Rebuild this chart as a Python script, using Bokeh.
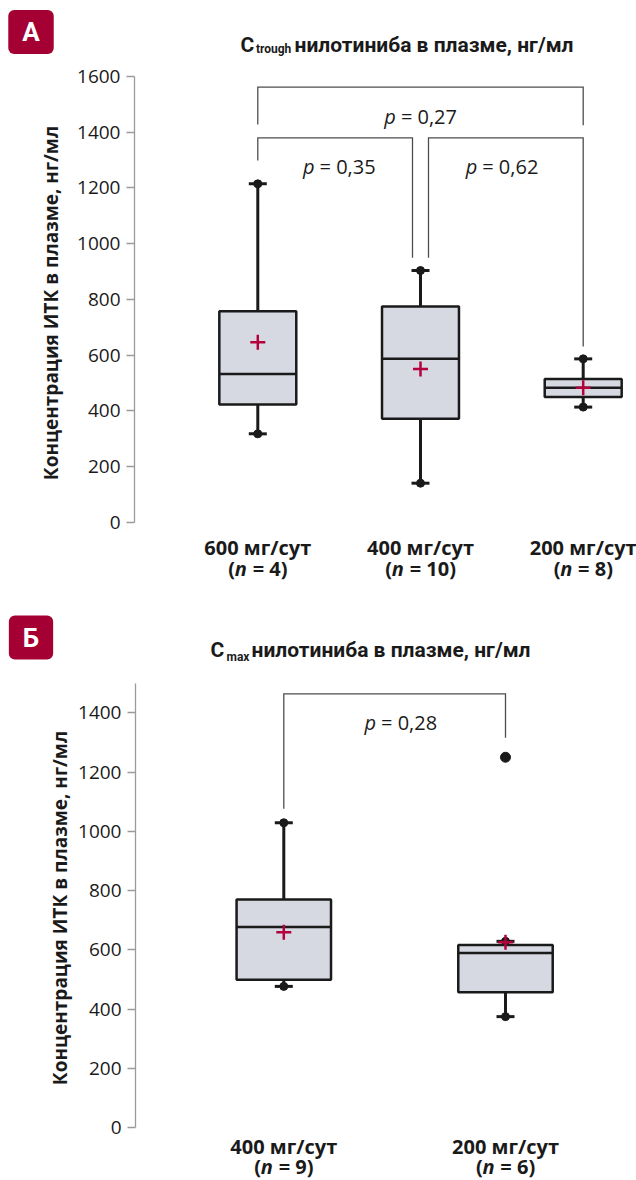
import math
from bokeh.plotting import figure
from bokeh.models import Range1d, FixedTicker, Label
from bokeh.layouts import column, row
from bokeh.embed import file_html
from bokeh.resources import INLINE
from bokeh.core.properties import value

# ---------------- Panel A data (C trough) ----------------
a_doses = ["600 мг/сут", "400 мг/сут", "200 мг/сут"]
a_n = [4, 10, 8]
a_whisk_lo = [318, 141, 414]
a_q1 = [423, 372, 450]
a_median = [533, 587, 483]
a_q3 = [758, 775, 515]
a_whisk_hi = [1215, 904, 587]
a_mean = [647, 551, 483]
a_ticks = [0, 200, 400, 600, 800, 1000, 1200, 1400, 1600]
# brackets: group indices, bar level, leg ends, p value
a_brk_i = [0, 0, 1]
a_brk_j = [2, 1, 2]
a_brk_level = [1562, 1380, 1380]
a_brk_end_i = [1428, 1299, 950]
a_brk_end_j = [1425, 950, 631]
a_brk_p = ["0,27", "0,35", "0,62"]
a_brk_shift_i = [0, 0, 1]
a_brk_shift_j = [0, -1, 0]

# ---------------- Panel B data (C max) ----------------
b_doses = ["400 мг/сут", "200 мг/сут"]
b_n = [9, 6]
b_whisk_lo = [477, 375]
b_q1 = [499, 457]
b_median = [677, 590]
b_q3 = [770, 617]
b_whisk_hi = [1029, 629]
b_mean = [660, 626]
b_out_group = [1]
b_out_val = [1250]
b_ticks = [0, 200, 400, 600, 800, 1000, 1200, 1400]
b_brk_i = [0]
b_brk_j = [1]
b_brk_level = [1464]
b_brk_end_i = [1076]
b_brk_end_j = [1316]
b_brk_p = ["0,28"]
b_brk_shift_i = [0]
b_brk_shift_j = [0]

Y_LABEL = "Концентрация ИТК в плазме, нг/мл"

FONT = "Open Sans"
TFONT = "Roboto"
INK = "#1a1a1a"
BOX_FILL = "#D6D9E2"
PLUS = "#B4003C"
BADGE = "#A50034"
BRK = "#4d4d4d"
AXIS = "#9b9b9b"

W_BOLD = {"(": .332, ")": .332, " ": .26, "=": .571}
W_REG = {" ": .26, "=": .571, ",": .245}
STRIP_W = 74


def tw(s, table, size):
    return sum(table.get(ch, .572) for ch in s) * size


def make_strip(height, badge_txt, badge_xy, ylab_xy):
    s = figure(width=STRIP_W, height=height, x_range=Range1d(0, STRIP_W),
               y_range=Range1d(height, 0), x_axis_location=None, y_axis_location=None,
               min_border_left=0, min_border_right=0, min_border_top=0, min_border_bottom=0,
               outline_line_color=None, output_backend="svg", toolbar_location=None)
    s.grid.grid_line_color = None
    s.add_layout(Label(x=badge_xy[0], y=badge_xy[1], text=badge_txt, text_font=TFONT,
                       text_font_style="bold", text_font_size="26px", text_color="white",
                       text_align="center", text_baseline="middle",
                       background_fill_color=BADGE, border_radius=6, padding=(14, 7)))
    s.add_layout(Label(x=ylab_xy[0], y=ylab_xy[1], text=Y_LABEL, angle=math.pi / 2,
                       text_font=FONT, text_font_style="bold", text_font_size="19px",
                       text_color=INK, text_align="center", text_baseline="middle"))
    return s


def make_panel(width, height, xr, yr, border_left, ticks, axis_top,
               doses, ns, lo, q1, med, q3, hi, mean,
               bi, bj, blev, bei, bej, bp, bsi, bsj,
               box_w, ppx, ppy, lab_y1, lab_y2, p_dx, title_parts):
    p = figure(width=width, height=height, x_range=Range1d(*xr), y_range=Range1d(*yr),
               x_axis_location=None, y_axis_location="left",
               min_border_left=border_left, min_border_right=0,
               min_border_top=0, min_border_bottom=0,
               outline_line_color=None, output_backend="svg", toolbar_location=None,
               background_fill_color="white", border_fill_color="white")
    p.grid.grid_line_color = None
    ax = p.yaxis[0]
    ax.ticker = FixedTicker(ticks=ticks)
    ax.bounds = (0, axis_top)
    ax.axis_line_color = AXIS
    ax.axis_line_width = 1.3
    ax.major_tick_line_color = AXIS
    ax.major_tick_line_width = 1.3
    ax.major_tick_out = 8
    ax.major_tick_in = 0
    ax.minor_tick_line_color = None
    ax.major_label_text_font = FONT
    ax.major_label_text_font_size = "19px"
    ax.major_label_text_color = INK
    ax.major_label_standoff = 6

    xs = [i + 1 for i in range(len(doses))]
    # whiskers
    p.segment(x0=xs, y0=q3, x1=xs, y1=hi, line_width=3, line_color=INK)
    p.segment(x0=xs, y0=q1, x1=xs, y1=lo, line_width=3, line_color=INK)
    # boxes
    p.vbar(x=xs, width=box_w, bottom=q1, top=q3, fill_color=BOX_FILL,
           line_color=INK, line_width=2.5)
    p.segment(x0=[x - box_w / 2 for x in xs], y0=med, x1=[x + box_w / 2 for x in xs], y1=med,
              line_width=2.5, line_color=INK)
    # caps
    for vals in (hi, lo):
        p.scatter(x=xs, y=vals, marker="dash", size=18, line_width=3, line_color=INK)
        p.scatter(x=xs, y=vals, marker="circle", size=8, line_color=INK, fill_color=INK)
    # mean
    p.scatter(x=xs, y=mean, marker="cross", size=15, line_width=2.5, line_color=PLUS)

    # brackets
    off = 8 / ppx
    sp = .26 * 20
    for k in range(len(bi)):
        xl = bi[k] + 1 + bsi[k] * off
        xr_ = bj[k] + 1 + bsj[k] * off
        p.multi_line(xs=[[xl, xl, xr_, xr_]], ys=[[bei[k], blev[k], blev[k], bej[k]]],
                     line_color=BRK, line_width=1.3, line_join="miter")
        cx = (bi[k] + bj[k]) / 2 + 1
        ty = blev[k] - 29 / ppy
        rest = "= " + bp[k]
        wp = .57 * 20
        wr = tw(rest, W_REG, 20)
        left = -(wp + sp + wr) / 2 + p_dx
        p.text(x=[cx], y=[ty], text=["p"], x_offset=left, text_font=value(FONT),
               text_font_style="italic", text_font_size="20px", text_color=INK,
               text_align="left", text_baseline="alphabetic")
        p.text(x=[cx], y=[ty], text=[rest], x_offset=left + wp + sp, text_font=value(FONT),
               text_font_size="20px", text_color=INK,
               text_align="left", text_baseline="alphabetic")

    # category labels
    p.text(x=xs, y=[lab_y1] * len(xs), text=doses, text_font=value(FONT),
           text_font_style="bold", text_font_size="20px", text_color=INK,
           text_align="center", text_baseline="alphabetic")
    for x, n in zip(xs, ns):
        tail = "= %d)" % n
        w1 = tw("(", W_BOLD, 20)
        w2 = .63 * 20
        w3 = tw(tail, W_BOLD, 20)
        left = -(w1 + w2 + sp + w3) / 2
        for txt, xo, style in (("(", left, "bold"), ("n", left + w1, "bold italic"),
                               (tail, left + w1 + w2 + sp, "bold")):
            p.text(x=[x], y=[lab_y2], text=[txt], x_offset=xo, text_font=value(FONT),
                   text_font_style=style, text_font_size="20px", text_color=INK,
                   text_align="left", text_baseline="alphabetic")

    # title pieces (screen units, relative to frame)
    for txt, x, y, size in title_parts:
        p.add_layout(Label(x=x, y=y, x_units="screen", y_units="screen", text=txt,
                           text_font=TFONT, text_font_style="bold", text_font_size=size,
                           text_color=INK, text_align="left", text_baseline="alphabetic"))
    return p


# Panel A geometry: frame x 134..636, y 0..608
A_H = 608
A_PPX = 162.7
A_PPY = 0.27875
sa = make_strip(A_H, "А", (30.5, 31.5), (50.7, 302.5))
pa = make_panel(636 - STRIP_W, A_H, (0.2422, 3.3276), (-308.5, 1872.6), 134 - STRIP_W,
                a_ticks, 1600,
                a_doses, a_n, a_whisk_lo, a_q1, a_median, a_q3, a_whisk_hi, a_mean,
                a_brk_i, a_brk_j, a_brk_level, a_brk_end_i, a_brk_end_j, a_brk_p,
                a_brk_shift_i, a_brk_shift_j,
                0.473, A_PPX, A_PPY, -88.6, -165, 0,
                [("C", 106, 563.7, "21px"), ("trough", 121.5, 559.7, "12px"),
                 ("нилотиниба в плазме, нг/мл", 160, 563.7, "21px")])

# Panel B geometry: frame x 135..636, y 608..1180
B_H = 572
B_PPX = 221.7
B_PPY = 0.29643
sb = make_strip(B_H, "Б", (30.5, 29), (59.4, 299.5))
pb = make_panel(636 - STRIP_W, B_H, (0.3311, 2.5909), (-177.8, 1751.8), 135 - STRIP_W,
                b_ticks, 1500,
                b_doses, b_n, b_whisk_lo, b_q1, b_median, b_q3, b_whisk_hi, b_mean,
                b_brk_i, b_brk_j, b_brk_level, b_brk_end_i, b_brk_end_j, b_brk_p,
                b_brk_shift_i, b_brk_shift_j,
                0.426, B_PPX, B_PPY, -63, -130.5, 6,
                [("C", 75, 530.7, "21px"), ("max", 91, 524, "12px"),
                 ("нилотиниба в плазме, нг/мл", 116, 530.7, "21px")])
# outlier
pb.scatter(x=[g + 1 for g in b_out_group], y=b_out_val, marker="circle", size=10,
           line_color=INK, fill_color=INK)

layout = column(row(sa, pa), row(sb, pb))
open("out.html", "w").write(file_html(layout, INLINE))
